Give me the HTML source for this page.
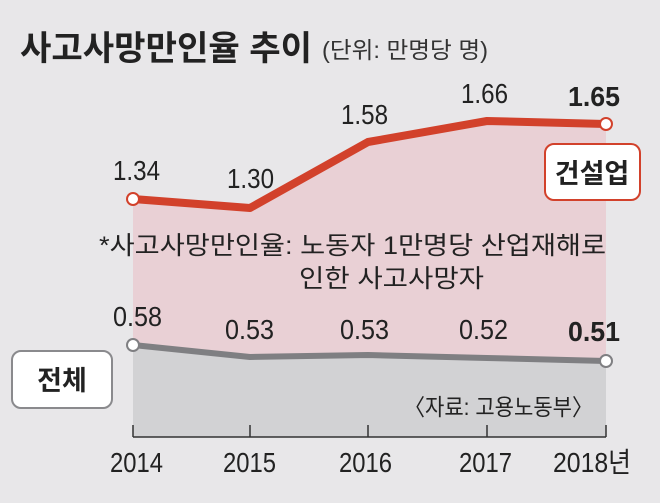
<!DOCTYPE html>
<html><head><meta charset="utf-8"><style>
body{margin:0;background:#e8e7e9;}
svg text{font-family:"Liberation Sans","Noto Sans CJK KR",sans-serif;}
</style></head><body>
<svg width="660" height="498" viewBox="0 0 660 498" xmlns="http://www.w3.org/2000/svg">
<rect width="660" height="498" fill="#e8e7e9"/>
<polygon points="133,199 250,208 368,142 487,121 606,124 606,361 487,358 368,355 250,357 133,345" fill="#e9d0d5"/>
<polygon points="133,345 250,357 368,355 487,358 606,361 606,437 133,437" fill="#d2d2d4"/>
<polyline points="133,199 250,208 368,142 487,121 606,124" fill="none" stroke="#d2412b" stroke-width="8" stroke-linejoin="round"/>
<polyline points="133,345 250,357 368,355 487,358 606,361" fill="none" stroke="#7f7f82" stroke-width="6" stroke-linejoin="round"/>
<circle cx="133" cy="199" r="6" fill="#fff" stroke="#d2412b" stroke-width="2"/>
<circle cx="606" cy="124" r="6" fill="#fff" stroke="#d2412b" stroke-width="2"/>
<circle cx="133" cy="345" r="6" fill="#fff" stroke="#7f7f82" stroke-width="2"/>
<circle cx="606" cy="361" r="6" fill="#fff" stroke="#7f7f82" stroke-width="2"/>
<line x1="133" y1="437" x2="606" y2="437" stroke="#333" stroke-width="1.5"/>
<g stroke="#333" stroke-width="1.5"><line x1="133" y1="425" x2="133" y2="437"/><line x1="250" y1="425" x2="250" y2="437"/><line x1="368" y1="425" x2="368" y2="437"/><line x1="487" y1="425" x2="487" y2="437"/><line x1="606" y1="425" x2="606" y2="437"/></g>
<text x="20" y="60" font-size="34" font-weight="bold" fill="#222" textLength="292" lengthAdjust="spacingAndGlyphs">사고사망만인율 추이</text>
<text x="322" y="58" font-size="23" fill="#333" textLength="166" lengthAdjust="spacingAndGlyphs">(단위: 만명당 명)</text>
<g font-size="28" fill="#222">
<text x="113" y="180" textLength="47" lengthAdjust="spacingAndGlyphs">1.34</text>
<text x="227" y="188" textLength="47" lengthAdjust="spacingAndGlyphs">1.30</text>
<text x="341" y="124" textLength="47" lengthAdjust="spacingAndGlyphs">1.58</text>
<text x="461" y="103" textLength="47" lengthAdjust="spacingAndGlyphs">1.66</text>
<text x="568" y="106" font-weight="bold" textLength="52" lengthAdjust="spacingAndGlyphs">1.65</text>
<text x="113" y="326" textLength="49" lengthAdjust="spacingAndGlyphs">0.58</text>
<text x="225" y="339" textLength="49" lengthAdjust="spacingAndGlyphs">0.53</text>
<text x="340" y="339" textLength="49" lengthAdjust="spacingAndGlyphs">0.53</text>
<text x="459" y="339" textLength="49" lengthAdjust="spacingAndGlyphs">0.52</text>
<text x="568" y="341" font-weight="bold" textLength="52" lengthAdjust="spacingAndGlyphs">0.51</text>
<text x="110" y="472" textLength="53" lengthAdjust="spacingAndGlyphs">2014</text>
<text x="223" y="472" textLength="53" lengthAdjust="spacingAndGlyphs">2015</text>
<text x="339" y="472" textLength="53" lengthAdjust="spacingAndGlyphs">2016</text>
<text x="459" y="472" textLength="53" lengthAdjust="spacingAndGlyphs">2017</text>
<text x="553" y="472" textLength="78" lengthAdjust="spacingAndGlyphs">2018년</text>
</g>
<rect x="545" y="144" width="95" height="56" rx="9" fill="#fff" stroke="#d2412b" stroke-width="2"/>
<text x="592" y="183" font-size="27" font-weight="bold" text-anchor="middle" fill="#222">건설업</text>
<rect x="12" y="351" width="100" height="57" rx="9" fill="#fff" stroke="#8a8a8d" stroke-width="2"/>
<text x="62" y="390" font-size="27" font-weight="bold" text-anchor="middle" fill="#222">전체</text>
<text x="99" y="254" font-size="25" fill="#222" textLength="507" lengthAdjust="spacingAndGlyphs">*사고사망만인율: 노동자 1만명당 산업재해로</text>
<text x="299" y="287" font-size="25" fill="#222" textLength="185" lengthAdjust="spacingAndGlyphs">인한 사고사망자</text>
<text x="404" y="415" font-size="23" fill="#222" textLength="189" lengthAdjust="spacingAndGlyphs">〈자료: 고용노동부〉</text>
</svg>
</body></html>
